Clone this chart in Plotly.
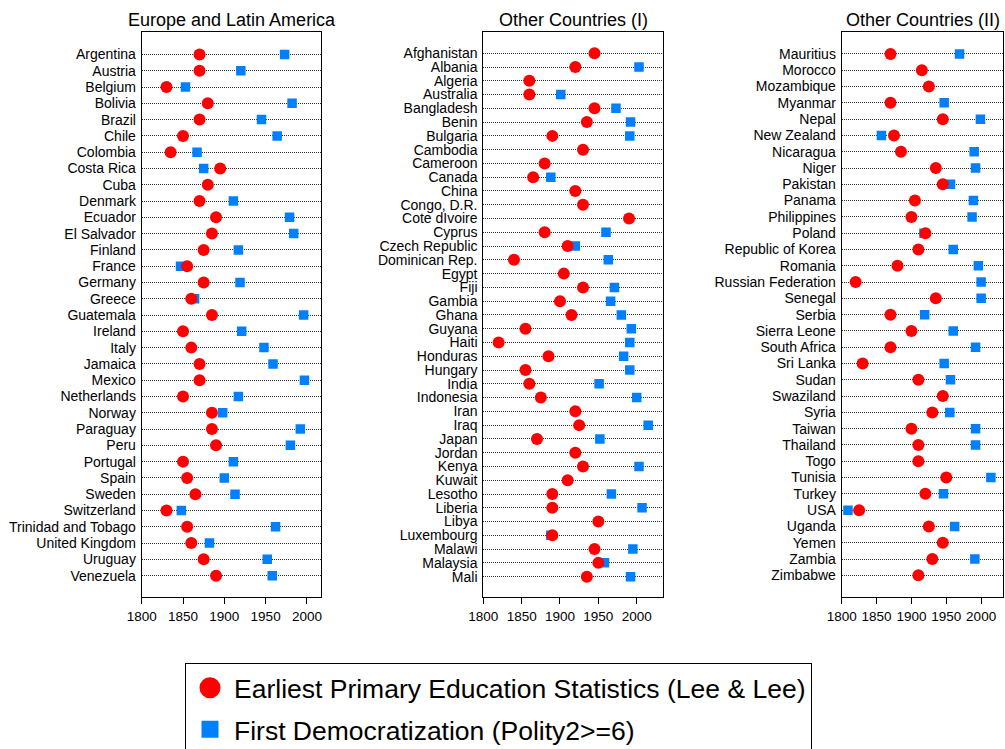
import plotly.graph_objects as go

# ---------------- data ----------------
countries1 = ["Argentina", "Austria", "Belgium", "Bolivia", "Brazil", "Chile", "Colombia",
              "Costa Rica", "Cuba", "Denmark", "Ecuador", "El Salvador", "Finland", "France",
              "Germany", "Greece", "Guatemala", "Ireland", "Italy", "Jamaica", "Mexico",
              "Netherlands", "Norway", "Paraguay", "Peru", "Portugal", "Spain", "Sweden",
              "Switzerland", "Trinidad and Tobago", "United Kingdom", "Uruguay", "Venezuela"]
edu1 = [1870, 1870, 1830, 1880, 1870, 1850, 1835, 1895, 1880, 1870, 1890, 1885, 1875, 1855,
        1875, 1860, 1885, 1850, 1860, 1870, 1870, 1850, 1885, 1885, 1890, 1850, 1855, 1865,
        1830, 1855, 1860, 1875, 1890]
dem1 = [1973, 1920, 1853, 1982, 1945, 1964, 1867, 1875, None, 1911, 1979, 1984, 1917, 1847,
        1919, 1864, 1996, 1921, 1948, 1959, 1997, 1917, 1898, 1992, 1980, 1911, 1900, 1913,
        1848, 1962, 1882, 1952, 1958]

countries2 = ["Afghanistan", "Albania", "Algeria", "Australia", "Bangladesh", "Benin", "Bulgaria",
              "Cambodia", "Cameroon", "Canada", "China", "Congo, D.R.", "Cote dIvoire", "Cyprus",
              "Czech Republic", "Dominican Rep.", "Egypt", "Fiji", "Gambia", "Ghana", "Guyana",
              "Haiti", "Honduras", "Hungary", "India", "Indonesia", "Iran", "Iraq", "Japan",
              "Jordan", "Kenya", "Kuwait", "Lesotho", "Liberia", "Libya", "Luxembourg", "Malawi",
              "Malaysia", "Mali"]
edu2 = [1945, 1920, 1860, 1860, 1945, 1935, 1890, 1930, 1880, 1865, 1920, 1930, 1990, 1880,
        1910, 1840, 1905, 1930, 1900, 1915, 1855, 1820, 1885, 1855, 1860, 1875, 1920, 1925,
        1870, 1920, 1930, 1910, 1890, 1890, 1950, 1890, 1945, 1950, 1935]
dem2 = [None, 2003, None, 1901, 1973, 1992, 1991, None, None, 1888, None, None, None, 1960,
        1920, 1963, None, 1971, 1966, 1980, 1993, 1991, 1983, 1991, 1951, 2000, None, 2015,
        1952, None, 2003, None, 1967, 2007, None, 1888, 1995, 1958, 1992]

countries3 = ["Mauritius", "Morocco", "Mozambique", "Myanmar", "Nepal", "New Zealand", "Nicaragua",
              "Niger", "Pakistan", "Panama", "Philippines", "Poland", "Republic of Korea",
              "Romania", "Russian Federation", "Senegal", "Serbia", "Sierra Leone", "South Africa",
              "Sri Lanka", "Sudan", "Swaziland", "Syria", "Taiwan", "Thailand", "Togo", "Tunisia",
              "Turkey", "USA", "Uganda", "Yemen", "Zambia", "Zimbabwe"]
edu3 = [1870, 1915, 1925, 1870, 1945, 1875, 1885, 1935, 1945, 1905, 1900, 1920, 1910, 1880,
        1820, 1935, 1870, 1900, 1870, 1830, 1910, 1945, 1930, 1900, 1910, 1910, 1950, 1920,
        1825, 1925, 1945, 1930, 1910]
dem3 = [1969, None, None, 1947, 1999, 1857, 1990, 1992, 1956, 1989, 1987, 1918, 1960, 1996,
        2000, 2000, 1919, 1960, 1992, 1947, 1956, None, 1955, 1992, 1992, None, 2014, 1946,
        1809, 1962, None, 1991, None]

titles = ["Europe and Latin America", "Other Countries (I)", "Other Countries (II)"]
xticks = [1800, 1850, 1900, 1950, 2000]
legend_names = ["Earliest Primary Education Statistics (Lee & Lee)",
                "First Democratization (Polity2>=6)"]

# ---------------- layout geometry ----------------
W, H = 1005, 749
FONT = "Liberation Sans, Arial, Helvetica, sans-serif"
RED = "#FF0000"
BLUE = "#0080FF"

panels = [
    dict(c=countries1, e=edu1, d=dem1, xd=(141.7, 321.3), xr=(1800, 2017.4), pad=(1.36, 1.33)),
    dict(c=countries2, e=edu2, d=dem2, xd=(483.3, 663.3), xr=(1800, 2034.7), pad=(1.52, 1.50)),
    dict(c=countries3, e=edu3, d=dem3, xd=(841.7, 1003.3), xr=(1800, 2031.8), pad=(1.33, 1.35)),
]
y_top, y_bot = 32.3, 597.3

fig = go.Figure()
layout = dict(
    width=W, height=H,
    margin=dict(l=0, r=0, t=0, b=0, autoexpand=False),
    paper_bgcolor="white", plot_bgcolor="white",
    font=dict(family=FONT, color="black", size=14),
    showlegend=True,
    annotations=[],
)

for i, p in enumerate(panels):
    k = "" if i == 0 else str(i + 1)
    xa, ya = "x" + k, "y" + k
    n = len(p["c"])
    # democratization squares (drawn first, below)
    fig.add_trace(go.Scatter(
        x=p["d"], y=p["c"], xaxis=xa, yaxis=ya, mode="markers",
        marker=dict(symbol="square", size=9.5, color=BLUE),
        showlegend=False, hoverinfo="x+y", name=legend_names[1]))
    # education circles on top
    fig.add_trace(go.Scatter(
        x=p["e"], y=p["c"], xaxis=xa, yaxis=ya, mode="markers",
        marker=dict(symbol="circle", size=12, color=RED),
        showlegend=False, hoverinfo="x+y", name=legend_names[0]))

    layout["xaxis" + k] = dict(
        domain=[p["xd"][0] / W, p["xd"][1] / W], anchor=ya,
        range=list(p["xr"]), tickvals=xticks, ticktext=[str(t) for t in xticks],
        showgrid=False, zeroline=False,
        showline=True, mirror=True, linecolor="black", linewidth=1,
        ticks="outside", ticklen=6, tickcolor="black", tickwidth=1,
        tickfont=dict(size=13.5, family=FONT, color="black"),
    )
    layout["yaxis" + k] = dict(
        domain=[1 - y_bot / H, 1 - y_top / H], anchor=xa,
        type="category", categoryorder="array", categoryarray=p["c"],
        tickmode="array", tickvals=p["c"], ticktext=p["c"],
        range=[n - 1 + p["pad"][1], -p["pad"][0]],
        showgrid=True, gridcolor="#333333", gridwidth=1, griddash="1px,1px",
        zeroline=False,
        showline=True, mirror=True, linecolor="black", linewidth=1,
        ticks="", ticklabelstandoff=2,
        tickfont=dict(size=14, family=FONT, color="black"),
    )
    layout["annotations"].append(dict(
        text=titles[i], xref="x" + k + " domain", x=0.5, yref="paper", y=1 - 20 / H,
        xanchor="center", yanchor="middle", showarrow=False,
        font=dict(size=18, family=FONT, color="black")))

# legend-only entries with larger glyphs (outline thickens the glyph)
fig.add_trace(go.Scatter(x=[None], y=[None], mode="markers", name=legend_names[0],
                         marker=dict(symbol="circle", size=16, color=RED,
                                     line=dict(color=RED, width=5)),
                         legendgroup="a", showlegend=True, hoverinfo="skip"))
fig.add_trace(go.Scatter(x=[None], y=[None], mode="markers", name=legend_names[1],
                         marker=dict(symbol="square", size=13, color=BLUE,
                                     line=dict(color=BLUE, width=4)),
                         legendgroup="b", showlegend=True, hoverinfo="skip"))

layout["legend"] = dict(
    x=185 / W, y=1 - 663 / H, xanchor="left", yanchor="top",
    bordercolor="black", borderwidth=1, bgcolor="white",
    font=dict(size=26.5, family=FONT, color="black"),
    tracegroupgap=4, itemwidth=38, traceorder="grouped",
)

fig.update_layout(**layout)
fig.write_html("out.html", config={"displayModeBar": False},
               post_script="document.body.style.margin='0px';document.body.style.padding='0px';")
